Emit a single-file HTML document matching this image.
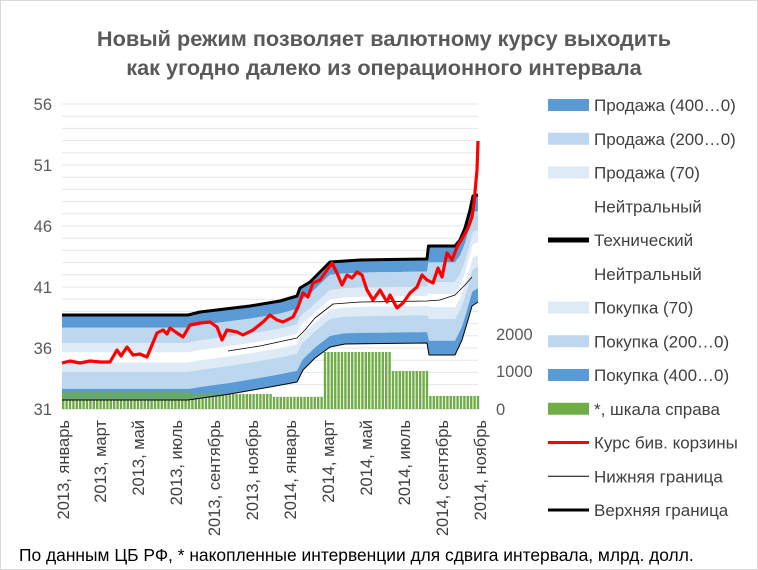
<!DOCTYPE html>
<html><head><meta charset="utf-8"><style>
html,body{margin:0;padding:0;background:#fff}
svg{display:block;font-family:"Liberation Sans",sans-serif}
</style></head><body>
<svg id="s" width="758" height="570" viewBox="0 0 758 570" xmlns="http://www.w3.org/2000/svg">
<rect x="0.5" y="0.5" width="757" height="569" fill="#fff" stroke="#d9d9d9"/>
<text x="384" y="46" text-anchor="middle" font-size="21.7" font-weight="bold" fill="#595959">Новый режим позволяет валютному курсу выходить</text>
<text x="384" y="75" text-anchor="middle" font-size="21.7" font-weight="bold" fill="#595959">как угодно далеко  из операционного интервала</text>
<g id="grid"></g>
<g id="bands"></g>
<g id="bars"></g>
<g id="lines"></g>
<g font-size="16.5" fill="#595959">
<text x="52" y="110" text-anchor="end">56</text>
<text x="52" y="171" text-anchor="end">51</text>
<text x="52" y="232" text-anchor="end">46</text>
<text x="52" y="293" text-anchor="end">41</text>
<text x="52" y="354" text-anchor="end">36</text>
<text x="52" y="415" text-anchor="end">31</text>
<text x="496" y="415">0</text>
<text x="496" y="377">1000</text>
<text x="496" y="340">2000</text>
</g>
<g id="xl" font-size="16.5" fill="#404040"></g>
<g id="leg" font-size="17" fill="#404040"></g>
<text x="19" y="561" font-size="17.4" fill="#000">По данным ЦБ РФ, * накопленные интервенции для сдвига интервала, млрд. долл.</text>
</svg>
<script>
(function(){
var NS="http://www.w3.org/2000/svg";
function el(p,t,a,txt){var e=document.createElementNS(NS,t);for(var k in a)e.setAttribute(k,a[k]);if(txt)e.textContent=txt;document.getElementById(p).appendChild(e);return e;}
for(var v=32;v<=56;v++){var y=409-(v-31)*12.2;el("grid","line",{x1:62,x2:478,y1:y,y2:y,stroke:"#e6e6e6","stroke-width":1});}
el("grid","line",{x1:62,x2:478,y1:409,y2:409,stroke:"#d9d9d9"});
function interp(pts,x){for(var i=0;i<pts.length-1;i++){if(x>=pts[i][0]&&x<=pts[i+1][0]){var t=(x-pts[i][0])/((pts[i+1][0]-pts[i][0])||1);return pts[i][1]+t*(pts[i+1][1]-pts[i][1]);}}return pts[pts.length-1][1];}
var U=[[62,315],[188,315],[200,312],[250,306],[280,301],[297,296],[300,288],[310,282],[322,270],[330,262],[360,260],[427,259],[428.5,246],[455,246],[460,240],[465,228],[470,210],[473,196],[478,195]];
var L=[[62,400],[188,400],[230,394],[270,387],[297,382],[303,370],[315,358],[330,347],[345,344],[427,343],[429,355],[455,355],[462,340],[468,320],[472,306],[478,302]];
var fr=[0,.15,.33,.44,.56,.67,.87,1];
var cols=["#5b9bd5","#bdd7ee","#deebf7","#ffffff","#deebf7","#bdd7ee","#5b9bd5"];
var xs=[];for(var x=62;x<=478;x+=0.5)xs.push(x);
for(var b=0;b<7;b++){var tp=[],bt=[];xs.forEach(function(x){var u=interp(U,x),l=interp(L,x);tp.push(x+","+(u+fr[b]*(l-u)).toFixed(1));bt.unshift(x+","+(u+fr[b+1]*(l-u)).toFixed(1));});
el("bands","polygon",{points:tp.concat(bt).join(" "),fill:cols[b]});}
var lv=[[62,188,392],[188,270,394],[270,322,397],[322,390,352],[390,427,371],[427,479,396]];
for(var x2=62;x2<478;x2+=3.4){var yy=400;for(var i=0;i<lv.length;i++)if(x2>=lv[i][0]&&x2<lv[i][1])yy=lv[i][2];el("bars","rect",{x:x2,y:yy,width:2.4,height:409-yy,fill:"#70ad47"});}
function pl(pts,st,w){el("lines","polyline",{points:pts.map(function(p){return p.join(",")}).join(" "),fill:"none",stroke:st,"stroke-width":w,"stroke-linejoin":"round"});}
pl(L,"#000",1);
pl([[228,351],[260,346],[297,338],[305,330],[315,318],[333,304],[360,302],[427,301],[440,300],[455,295],[465,285],[472,277]],"#000",0.8);
pl(U,"#000",3);
var R=[[62,363],[70,361],[80,363],[90,361],[100,362],[110,362],[117,350],[121,356],[127,347],[133,355],[140,354],[147,357],[152,345],[157,333],[163,330],[167,334],[170,328],[177,333],[183,337],[190,325],[200,323],[210,322],[217,327],[222,340],[227,330],[237,332],[243,335],[253,330],[263,322],[270,315],[277,320],[283,322],[293,317],[298,307],[303,293],[308,297],[313,283],[320,280],[327,270],[332,263],[337,273],[342,285],[347,275],[352,278],[357,272],[362,275],[367,290],[373,300],[380,290],[387,302],[390,295],[397,308],[403,303],[410,293],[417,287],[422,275],[427,280],[433,283],[438,268],[442,277],[447,253],[452,260],[457,247],[463,237],[468,228],[472,217],[474,203],[477,170],[478,141]];
pl(R,"#ff0000",3.2);
var xl=[[63,"2013, январь"],[100,"2013, март"],[138,"2013, май"],[176,"2013, июль"],[214,"2013, сентябрь"],[252,"2013, ноябрь"],[290,"2014, январь"],[328,"2014, март"],[366,"2014, май"],[404,"2014, июль"],[442,"2014, сентябрь"],[480,"2014, ноябрь"]];
xl.forEach(function(a){el("xl","text",{x:0,y:0,"text-anchor":"end",transform:"translate("+(a[0]+6)+",420) rotate(-90)"},a[1]);});
var lg=[["b","#5b9bd5","Продажа (400…0)"],["b","#bdd7ee","Продажа (200…0)"],["b","#deebf7","Продажа (70)"],["n","","Нейтральный"],["l","#000","Технический",5],["n","","Нейтральный"],["b","#deebf7","Покупка (70)"],["b","#bdd7ee","Покупка (200…0)"],["b","#5b9bd5","Покупка (400…0)"],["b","#70ad47","*, шкала справа"],["l","#ff0000","Курс бив. корзины",3],["l","#000","Нижняя граница",1],["l","#000","Верхняя граница",3]];
lg.forEach(function(a,i){var y=105+i*33.75;
if(a[0]=="b")el("leg","rect",{x:548,y:y-6,width:41,height:12,fill:a[1]});
if(a[0]=="l")el("leg","line",{x1:548,x2:589,y1:y,y2:y,stroke:a[1],"stroke-width":a[3]});
el("leg","text",{x:594,y:y+6},a[2]);});
})();
</script>
</body></html>
